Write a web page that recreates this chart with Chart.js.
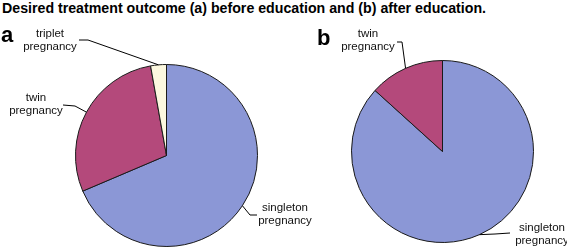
<!DOCTYPE html>
<html>
<head>
<meta charset="utf-8">
<script src="https://cdn.jsdelivr.net/npm/chart.js@4/dist/chart.umd.min.js"></script>
<style>
  html, body { margin: 0; padding: 0; background: #fff; }
  #wrap { position: relative; width: 567px; height: 248px; overflow: hidden; }
  #title { position: absolute; left: 2px; top: 0px; font: bold 14.2px "Liberation Sans", Arial, sans-serif; color: #000; white-space: nowrap; }
  canvas { position: absolute; left: 0; top: 0; }
</style>
</head>
<body>
<div id="wrap">
  <div id="title">Desired treatment outcome (a) before education and (b) after education.</div>
  <canvas id="pieA" width="567" height="248"></canvas>
  <canvas id="pieB" width="567" height="248"></canvas>
</div>
<script>
// Desired treatment outcome — two pie charts (before / after education)

// --- Data ---
const labelsA = ['singleton pregnancy', 'twin pregnancy', 'triplet pregnancy'];
const valuesA = [68.6, 28.6, 2.8];
const labelsB = ['singleton pregnancy', 'twin pregnancy'];
const valuesB = [86.7, 13.3];

// --- Colors ---
const colSingleton = '#8b97d6';
const colTwin = '#b4497b';
const colTriplet = '#fcf8df';

// leader line elbows/ends and text centres, per slice
const calloutsA = [
    { pts: [[250, 215], [257, 215]], x: 285, y: 208 },
    { pts: [[75, 106], [63, 105]], x: 36, y: 98 },
    { pts: [[88, 40], [79, 40]], x: 50, y: 34 }
];
const calloutsB = [
    { pts: [[495, 234], [510, 233]], x: 542, y: 228 },
    { pts: [[402, 42], [397, 42]], x: 368, y: 34 }
];

function calloutPlugin(tag, callouts) {
    return {
        id: 'callouts' + tag,
        afterDatasetsDraw(chart) {
            const ctx = chart.ctx;
            const arcs = chart.getDatasetMeta(0).data;
            const labels = chart.data.labels;
            ctx.save();

            // panel letter
            ctx.fillStyle = '#000';
            ctx.font = 'bold 22px "Liberation Sans", Arial, sans-serif';
            ctx.textAlign = 'left';
            ctx.textBaseline = 'alphabetic';
            if (tag === 'a') ctx.fillText('a', 1, 42);
            else ctx.fillText('b', 317, 45);

            arcs.forEach(function (arc, i) {
                const p = arc.getProps(['x', 'y', 'startAngle', 'endAngle', 'outerRadius'], true);
                const mid = (p.startAngle + p.endAngle) / 2;
                const sx = p.x + Math.cos(mid) * p.outerRadius;
                const sy = p.y + Math.sin(mid) * p.outerRadius;
                const c = callouts[i];

                ctx.strokeStyle = '#000';
                ctx.lineWidth = 1;
                ctx.beginPath();
                ctx.moveTo(sx, sy);
                c.pts.forEach(function (q) { ctx.lineTo(q[0], q[1]); });
                ctx.stroke();

                const words = labels[i].split(' ');
                ctx.fillStyle = '#111';
                ctx.font = '11.5px "Liberation Sans", Arial, sans-serif';
                ctx.textAlign = 'center';
                ctx.textBaseline = 'middle';
                ctx.fillText(words[0], c.x, c.y);
                ctx.fillText(words[1], c.x, c.y + 13);
            });
            ctx.restore();
        }
    };
}

function makePie(id, labels, values, colors, padding, tag, callouts) {
    return new Chart(document.getElementById(id), {
        type: 'pie',
        data: {
            labels: labels,
            datasets: [{
                data: values,
                backgroundColor: colors,
                borderColor: '#1a1a1a',
                borderWidth: 1,
                hoverOffset: 0
            }]
        },
        options: {
            responsive: false,
            animation: false,
            layout: { padding: padding },
            plugins: {
                legend: { display: false },
                tooltip: { enabled: false },
                title: { display: false }
            }
        },
        plugins: [calloutPlugin(tag, callouts)]
    });
}

makePie('pieA', labelsA, valuesA, [colSingleton, colTwin, colTriplet],
    { left: 75, top: 64, right: 309, bottom: 1 }, 'a', calloutsA);
makePie('pieB', labelsB, valuesB, [colSingleton, colTwin],
    { left: 351, top: 60, right: 33, bottom: 5 }, 'b', calloutsB);
</script>
</body>
</html>
